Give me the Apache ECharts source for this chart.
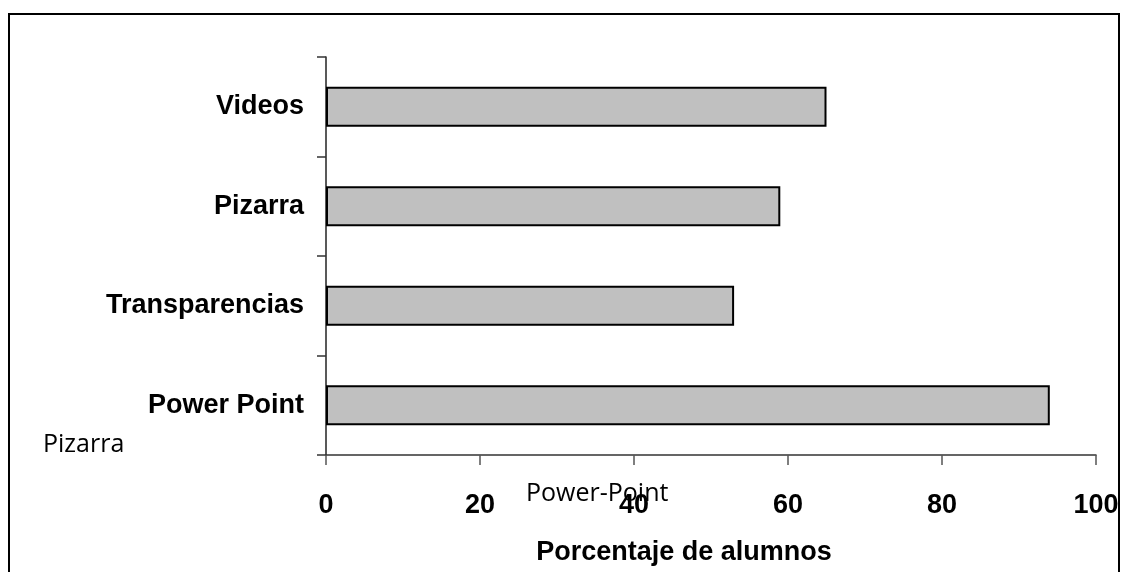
<!DOCTYPE html>
<html>
<head>
<meta charset="utf-8">
<style>
  html, body { margin: 0; padding: 0; background: #fff; }
  #chart { width: 1126px; height: 572px; }
</style>
<script src="https://cdn.jsdelivr.net/npm/echarts@6/dist/echarts.min.js"></script>
</head>
<body>
<div id="chart"></div>
<script>
// Categories bottom-to-top (as on the category axis)
const categories = ['Power Point', 'Transparencias', 'Pizarra', 'Videos'];
// Percentage of students
const values = [94, 53, 59, 65];
// X axis ticks
const xMin = 0, xMax = 100, xStep = 20;
const axisTitle = 'Porcentaje de alumnos';
// Stray text boxes present in the original figure
const strayTexts = ['Pizarra', 'Power-Point'];

const chart = echarts.init(document.getElementById('chart'), null, { renderer: 'canvas' });

const labelFont = 'Liberation Sans, Arial, sans-serif';

chart.setOption({
  animation: false,
  backgroundColor: '#ffffff',
  grid: { left: 326, right: 30, top: 57, bottom: 117, containLabel: false },
  xAxis: {
    type: 'value',
    min: xMin, max: xMax, interval: xStep,
    axisLine: { show: true, lineStyle: { color: '#333', width: 1.5 } },
    axisTick: { show: true, inside: false, length: 10, lineStyle: { color: '#555', width: 1.5 } },
    splitLine: { show: false },
    axisLabel: { margin: 37, color: '#000', fontSize: 27, fontWeight: 'bold', fontFamily: labelFont },
    name: axisTitle,
    nameLocation: 'middle',
    nameGap: 84,
    nameTextStyle: { color: '#000', fontSize: 27, fontWeight: 'bold', fontFamily: labelFont, padding: [0, 54, 0, 0] }
  },
  yAxis: {
    type: 'category',
    data: categories,
    axisLine: { show: true, lineStyle: { color: '#222', width: 1.5 } },
    axisTick: { show: true, inside: false, length: 9, lineStyle: { color: '#333', width: 1.5 } },
    splitLine: { show: false },
    axisLabel: { margin: 22, color: '#000', fontSize: 27, fontWeight: 'bold', fontFamily: labelFont }
  },
  series: [{
    type: 'bar',
    data: values,
    barWidth: 40,
    itemStyle: { color: '#c0c0c0', borderColor: '#000', borderWidth: 2 },
    emphasis: { disabled: true }
  }],
  graphic: [
    {
      type: 'rect', silent: true, z: 0,
      shape: { x: 9, y: 14, width: 1110, height: 600 },
      style: { fill: 'none', stroke: '#000', lineWidth: 2 }
    },
    {
      type: 'text', left: 43, top: 432, silent: true, z: 10,
      style: { text: strayTexts[0], fill: '#000', font: '25px "Open Sans", sans-serif' }
    },
    {
      type: 'text', left: 526, top: 481, silent: true, z: 10,
      style: { text: strayTexts[1], fill: '#000', font: '25px "Open Sans", sans-serif' }
    }
  ]
});
</script>
</body>
</html>
